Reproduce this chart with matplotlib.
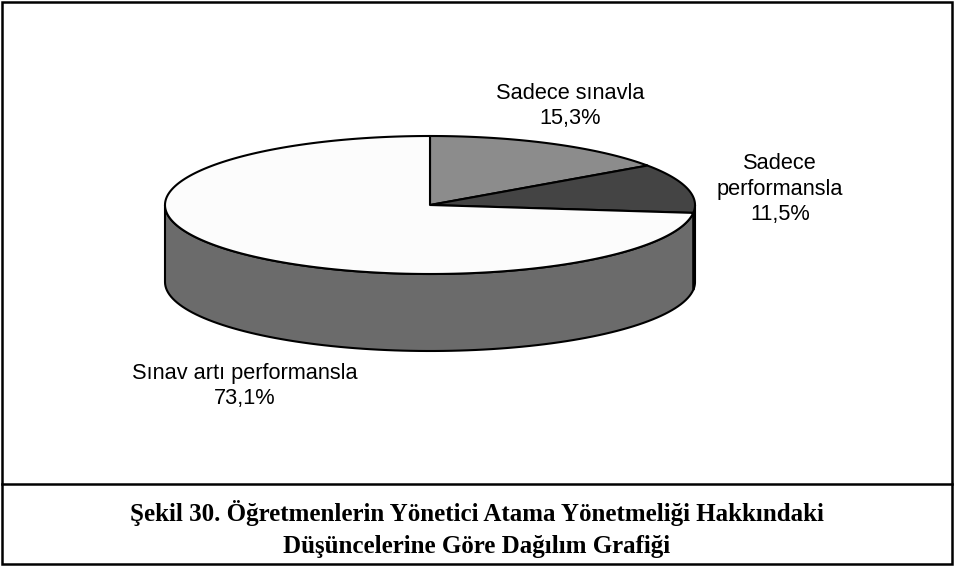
import numpy as np
import matplotlib.pyplot as plt
from matplotlib.patches import Polygon, Rectangle

labels = ['Sadece sınavla', 'Sadece\nperformansla', 'Sınav artı performansla']
values = [15.3, 11.5, 73.1]
top_colors = ['#8c8c8c', '#444444', '#fcfcfc']
side_colors = ['#5a5a5a', '#262626', '#6b6b6b']
caption = ('Şekil 30. Öğretmenlerin Yönetici Atama Yönetmeliği Hakkındaki\n'
           'Düşüncelerine Göre Dağılım Grafiği')

# pie geometry in pixel space
cx, cy = 430, 205
a, b = 265, 69
depth = 77
label_pos = [(570, 106), (780, 189), (245, 386)]

fig = plt.figure(figsize=(9.55, 5.67), dpi=100)
ax = fig.add_axes([0, 0, 1, 1])
ax.set_xlim(0, 955)
ax.set_ylim(567, 0)
ax.axis('off')


def ell(t):
    r = np.radians(t)
    return cx + a * np.cos(r), cy - b * np.sin(r)


total = sum(values)
starts = []
s = 90.0
for v in values:
    e = s - 360 * v / total
    starts.append((s, e))
    s = e

# sides (only the front half is visible)
for (s, e), col in zip(starts, side_colors):
    lo, hi = max(e, -180), min(s, 0)
    if hi <= lo:
        continue
    t = np.linspace(hi, lo, 100)
    x, y = ell(t)
    pts = np.vstack([np.column_stack([x, y]),
                     np.column_stack([x[::-1], y[::-1] + depth])])
    ax.add_patch(Polygon(pts, closed=True, fc=col, ec='black', lw=1.5, joinstyle='round'))

# tops
for (s, e), col in zip(starts, top_colors):
    t = np.linspace(s, e, 200)
    x, y = ell(t)
    pts = np.vstack([[cx, cy], np.column_stack([x, y])])
    ax.add_patch(Polygon(pts, closed=True, fc=col, ec='black', lw=1.5, joinstyle='round'))

for lab, v, (lx, ly) in zip(labels, values, label_pos):
    txt = lab + '\n' + ('%.1f' % v).replace('.', ',') + '%'
    ax.text(lx, ly, txt, ha='center', va='center', fontsize=15.7,
            family='Liberation Sans', linespacing=1.3)

# frames
ax.add_patch(Rectangle((2, 2), 950, 562, fill=False, ec='black', lw=1.8))
ax.plot([2, 952], [484, 484], color='black', lw=1.8)
ax.text(477, 529, caption, ha='center', va='center', fontsize=18,
        family='Liberation Serif', fontweight='bold', linespacing=1.5)

fig.savefig('out.png', dpi=100)
